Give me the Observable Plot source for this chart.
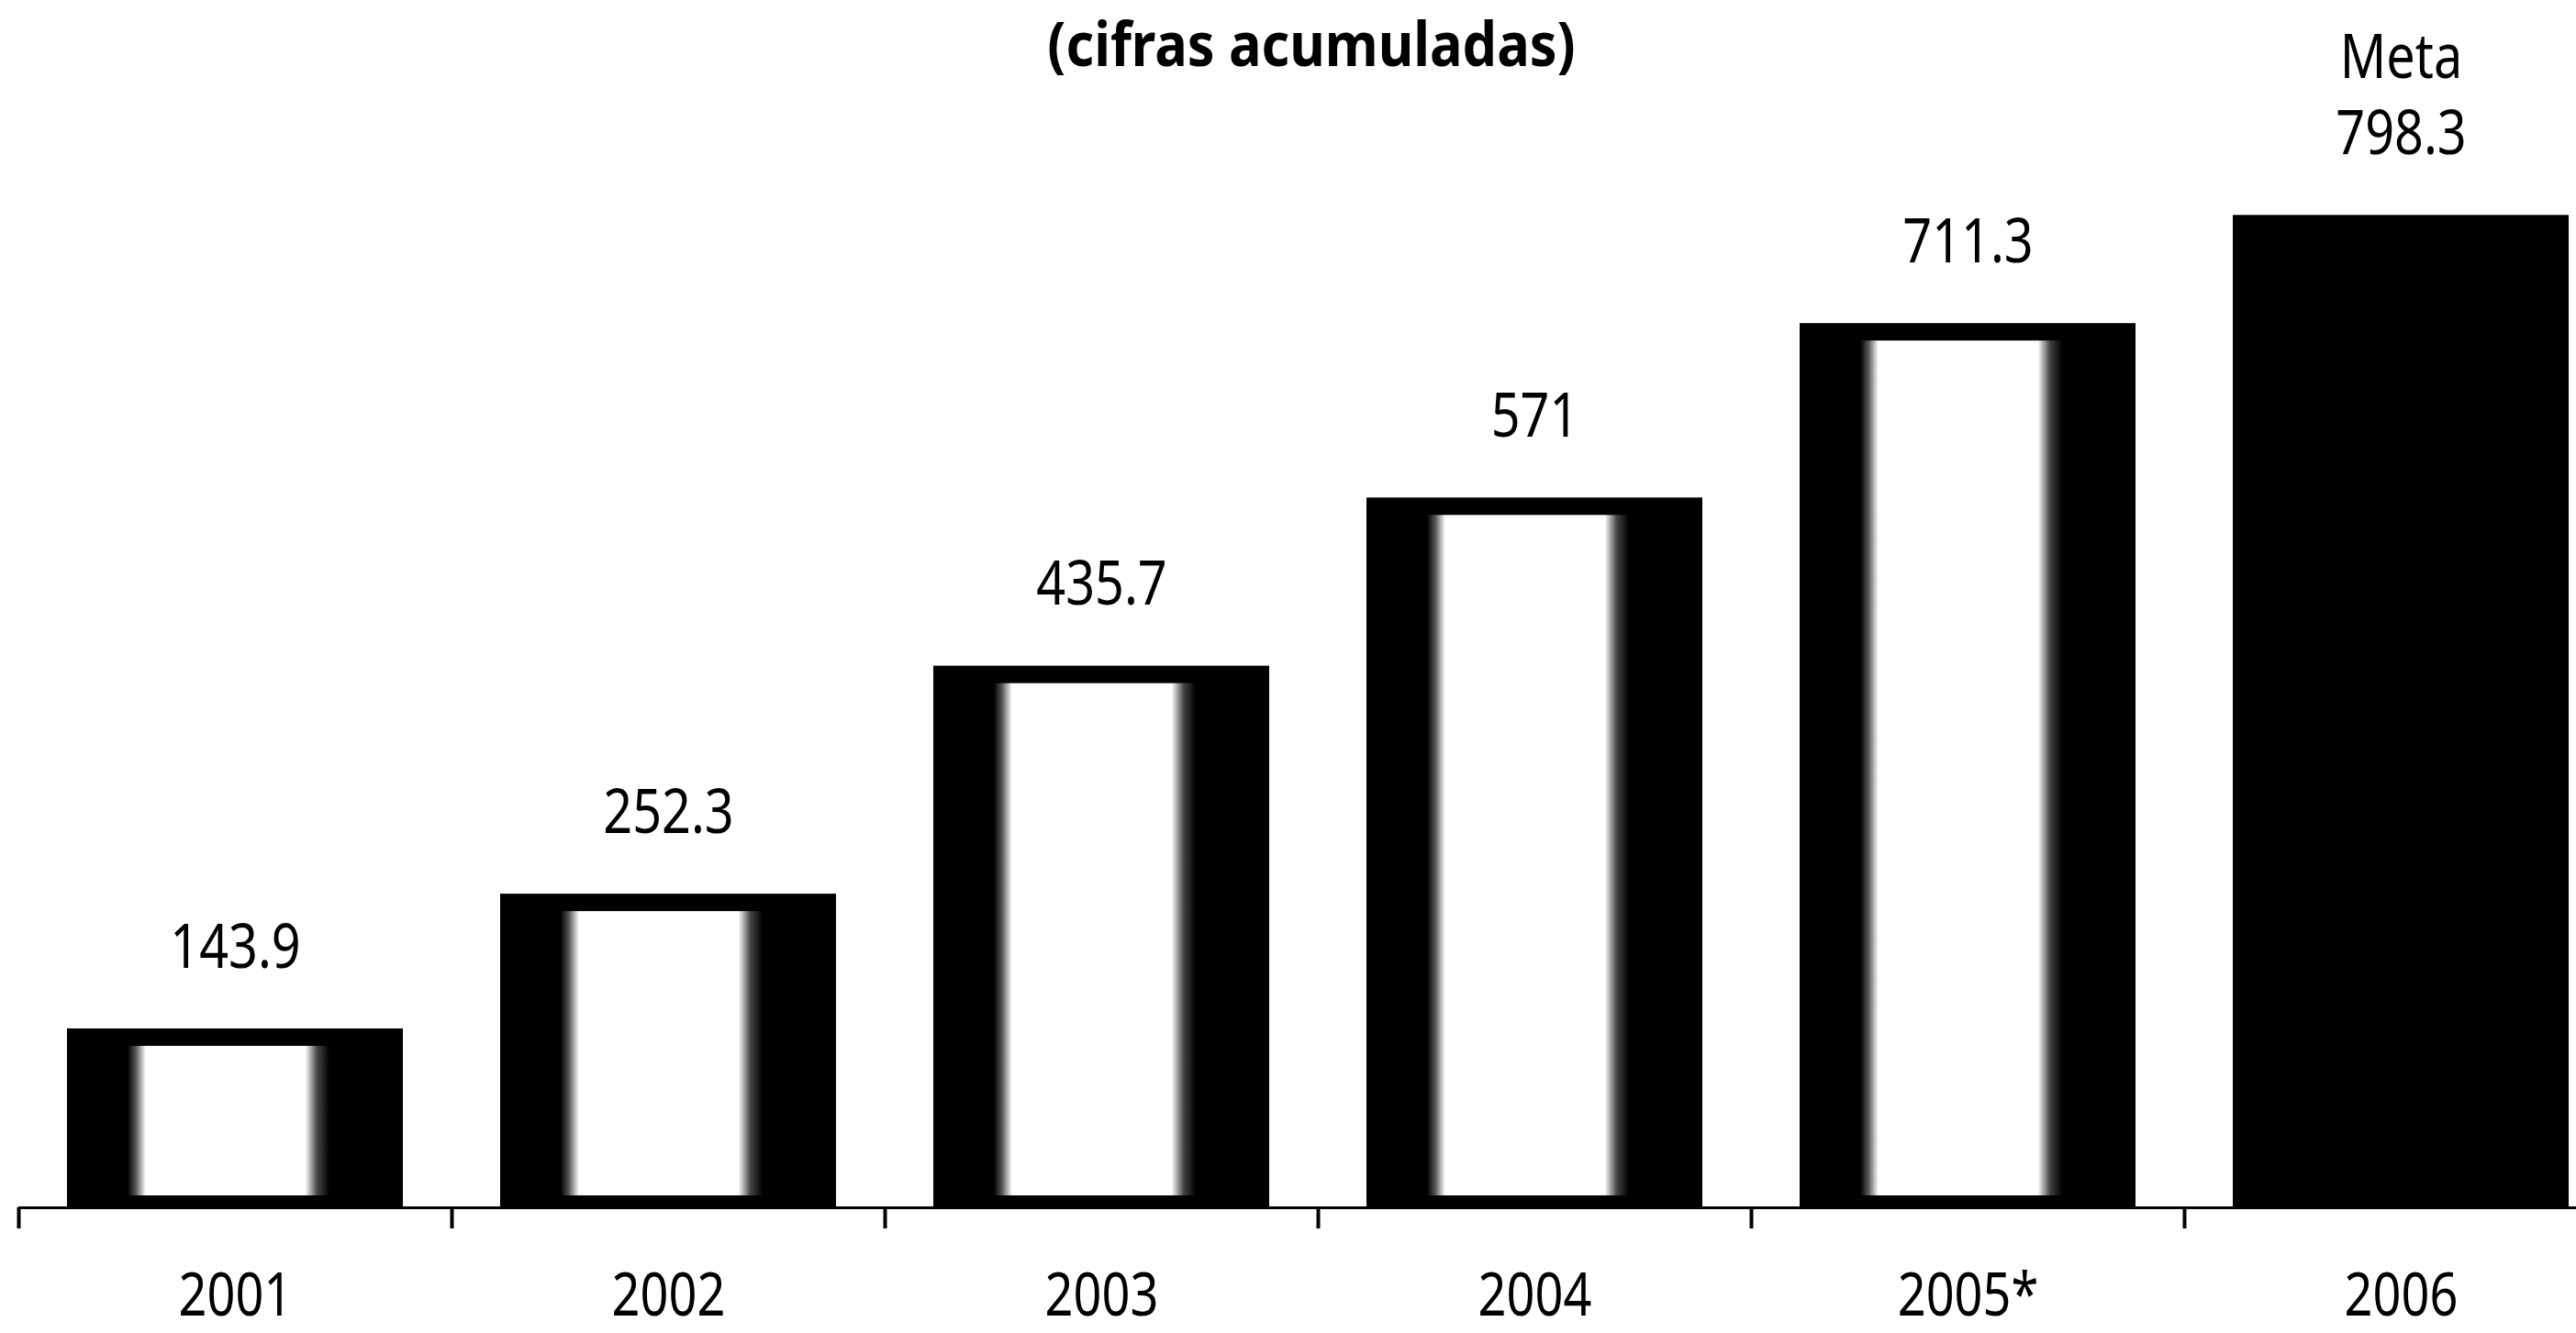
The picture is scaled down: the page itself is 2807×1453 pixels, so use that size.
<!DOCTYPE html>
<html>
<head>
<meta charset="utf-8">
<script src="https://cdn.jsdelivr.net/npm/d3@7"></script>
<script src="https://cdn.jsdelivr.net/npm/@observablehq/plot@0.6"></script>
<style>
  html, body { margin: 0; padding: 0; background: #fff; overflow: hidden; }
  #chart svg { display: block; }
</style>
</head>
<body>
<div id="chart"></div>
<script>
// ---- data ----
const titulo = "(cifras acumuladas)";
const anios = ["2001", "2002", "2003", "2004", "2005*", "2006"];
const valores = [143.9, 252.3, 435.7, 571, 711.3, 798.3];
const tipos = ["real", "real", "real", "real", "real", "meta"];
const prefijoMeta = "Meta";

const data = anios.map((a, i) => ({
  anio: a,
  valor: valores[i],
  tipo: tipos[i],
  etiqueta: (tipos[i] === "meta" ? prefijoMeta + "\n" : "") + String(valores[i])
}));

// ---- layout ----
const W = 2807, H = 1453;
const xRange = [20, 2852];
const padInner = 0.225, padOuter = padInner / 2;
const step = d3.scaleBand().domain(anios).range(xRange)
  .paddingInner(padInner).paddingOuter(padOuter).step();
const font = "'Noto Sans', 'DejaVu Sans', sans-serif";
const narrow = 0.82;       // horizontal condensing of the labels
const narrowTitle = 0.9;   // horizontal condensing of the title

const chart = Plot.plot({
  width: W,
  height: H,
  marginTop: 0,
  marginLeft: 20,
  marginRight: 0,
  marginBottom: 137,
  style: { fontFamily: font, fontSize: "66px", color: "black", background: "white", overflow: "hidden" },
  x: { domain: anios, range: xRange, paddingInner: padInner, paddingOuter: padOuter, label: null },
  y: { domain: [0, 800], range: [1316, 232], axis: null },
  marks: [
    // outer black bars
    Plot.barY(data, { x: "anio", y: "valor", fill: "black" }),
    // inner "cylinder" highlight for the real (non-meta) bars
    Plot.barY(data.filter(d => d.tipo === "real"), {
      x: "anio", y: "valor", fill: "url(#cyl)",
      insetLeft: 66, insetRight: 80, insetTop: 19, insetBottom: 13
    }),
    // baseline
    Plot.ruleY([0], { stroke: "black", strokeWidth: 3 }),
    // ticks at the band boundaries
    Plot.ruleX(anios, { x: d => d, y1: 0, y2: -17, dx: -step / 2, stroke: "black", strokeWidth: 4 }),
    // x axis labels
    Plot.axisX({ tickSize: 0, tickPadding: 71, fontSize: 66, fontFamily: font, label: null }),
    // value labels
    Plot.text(data, {
      x: "anio", y: "valor", text: "etiqueta",
      lineAnchor: "bottom", dy: -67, fontSize: 68, lineHeight: 1.22, fill: "black"
    }),
    // title
    Plot.text([titulo], {
      frameAnchor: "top", lineAnchor: "middle", dy: 50, dx: 15,
      fontSize: 66, fontWeight: "bold", fill: "black"
    })
  ]
});

// gradient definition for the bar highlight
const svg = chart.tagName.toLowerCase() === "svg" ? chart : chart.querySelector("svg");
const ns = "http://www.w3.org/2000/svg";
const defs = document.createElementNS(ns, "defs");
defs.innerHTML = `
  <linearGradient id="cyl" x1="0" x2="1" y1="0" y2="0">
    <stop offset="0" stop-color="#000"/>
    <stop offset="0.04" stop-color="#555"/>
    <stop offset="0.09" stop-color="#fff"/>
    <stop offset="0.88" stop-color="#fff"/>
    <stop offset="0.94" stop-color="#444"/>
    <stop offset="1" stop-color="#000"/>
  </linearGradient>`;
svg.insertBefore(defs, svg.firstChild);

// condense the text horizontally (the original uses a condensed typeface)
svg.querySelectorAll("text").forEach(t => {
  const k = t.textContent === titulo ? narrowTitle : narrow;
  const tr = t.getAttribute("transform");
  if (tr) {
    t.setAttribute("transform", tr + ` scale(${k},1)`);
  } else {
    const x = +(t.getAttribute("x") || 0), y = +(t.getAttribute("y") || 0);
    t.removeAttribute("x"); t.removeAttribute("y");
    t.setAttribute("transform", `translate(${x},${y}) scale(${k},1)`);
  }
});

document.getElementById("chart").appendChild(chart);
</script>
</body>
</html>
